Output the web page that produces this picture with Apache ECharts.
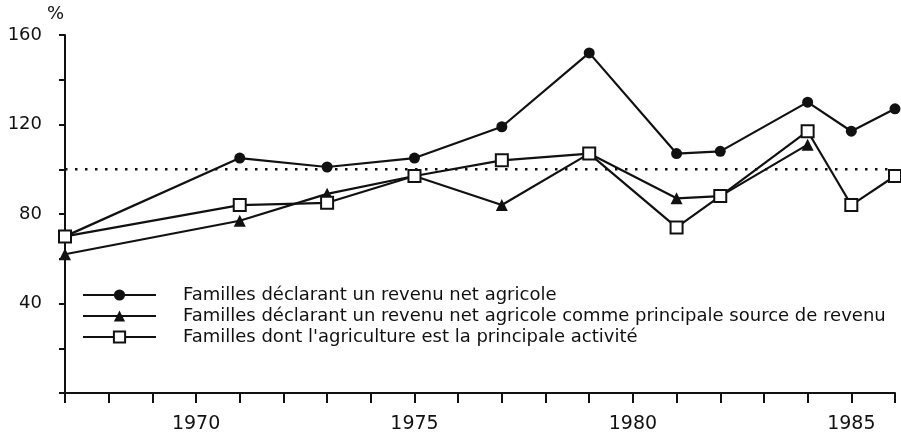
<!DOCTYPE html>
<html>
<head>
<meta charset="utf-8">
<script src="https://cdn.jsdelivr.net/npm/echarts@6/dist/echarts.min.js"></script>
<style>
  html, body { margin: 0; padding: 0; background: #fff; }
  #chart { width: 901px; height: 441px; }
</style>
</head>
<body>
<div id="chart"></div>
<script>
// Revenu agricole des familles, en % (indices), 1967-1986
const years = [1967, 1971, 1973, 1975, 1977, 1979, 1981, 1982, 1984, 1985, 1986];
const revenuNet = [70, 105, 101, 105, 119, 152, 107, 108, 130, 117, 127];
const sourcePrincipale = [62, 77, 89, 97, 84, 107, 87, 88, 111, null, null];
const activitePrincipale = [70, 84, 85, 97, 104, 107, 74, 88, 117, 84, 97];
const refYears = [1967, 1986];
const refValues = [100, 100];

const names = [
    "Familles déclarant un revenu net agricole",
    "Familles déclarant un revenu net agricole comme principale source de revenu",
    "Familles dont l'agriculture est la principale activité"
];

const font = "'DejaVu Sans', 'Liberation Sans', sans-serif";
const ink = "#111";

function pairs(xs, ys) {
    return xs.map((x, i) => [x, ys[i]]).filter(p => p[1] != null);
}

function serie(name, values, symbol, size, fill) {
    return {
        name: name,
        type: "line",
        data: pairs(years, values),
        symbol: symbol,
        symbolSize: size,
        showAllSymbol: true,
        lineStyle: { color: ink, width: 2.2 },
        itemStyle: { color: fill, borderColor: ink, borderWidth: fill === "#fff" ? 2 : 0 },
        emphasis: { disabled: true },
        animation: false
    };
}

const chart = echarts.init(document.getElementById("chart"), null, { renderer: "canvas" });
chart.setOption({
    backgroundColor: "#fff",
    textStyle: { fontFamily: font, color: ink },
    grid: { left: 65, right: 6, top: 35, bottom: 48 },
    legend: {
        orient: "vertical",
        left: 77, top: 281,
        itemWidth: 73, itemHeight: 14, itemGap: 3,
        data: names,
        textStyle: { fontSize: 18, color: ink, fontFamily: font, padding: [0, 0, 0, 22] },
        selectedMode: false
    },
    xAxis: {
        type: "value",
        min: 1967, max: 1986, interval: 1,
        axisLine: { lineStyle: { color: ink, width: 2 } },
        axisTick: { length: 10, lineStyle: { color: ink, width: 2 } },
        axisLabel: {
            margin: 22, fontSize: 19, color: ink, fontFamily: font,
            formatter: v => (v % 5 === 0 ? String(v) : "")
        },
        splitLine: { show: false }
    },
    yAxis: {
        type: "value",
        min: 0, max: 160, interval: 20,
        name: "%",
        nameLocation: "end",
        nameGap: 12,
        nameTextStyle: { fontSize: 18, color: ink, fontFamily: font, align: "right", padding: [0, 1, 0, 0] },
        axisLine: { show: true, lineStyle: { color: ink, width: 2 } },
        axisTick: { show: true, length: 6, lineStyle: { color: ink, width: 2 } },
        axisLabel: {
            margin: 23, fontSize: 18, color: ink, fontFamily: font,
            formatter: v => (v > 0 && v % 40 === 0 ? String(v) : "")
        },
        splitLine: { show: false }
    },
    series: [
        {
            name: "ref", type: "line", data: pairs(refYears, refValues),
            symbol: "none", silent: true, animation: false,
            lineStyle: { color: ink, width: 2.5, type: [2.5, 7.5] }
        },
        serie(names[0], revenuNet, "circle", 11, ink),
        serie(names[1], sourcePrincipale, "triangle", 12, ink),
        serie(names[2], activitePrincipale, "rect", 12, "#fff")
    ]
});
</script>
</body>
</html>
